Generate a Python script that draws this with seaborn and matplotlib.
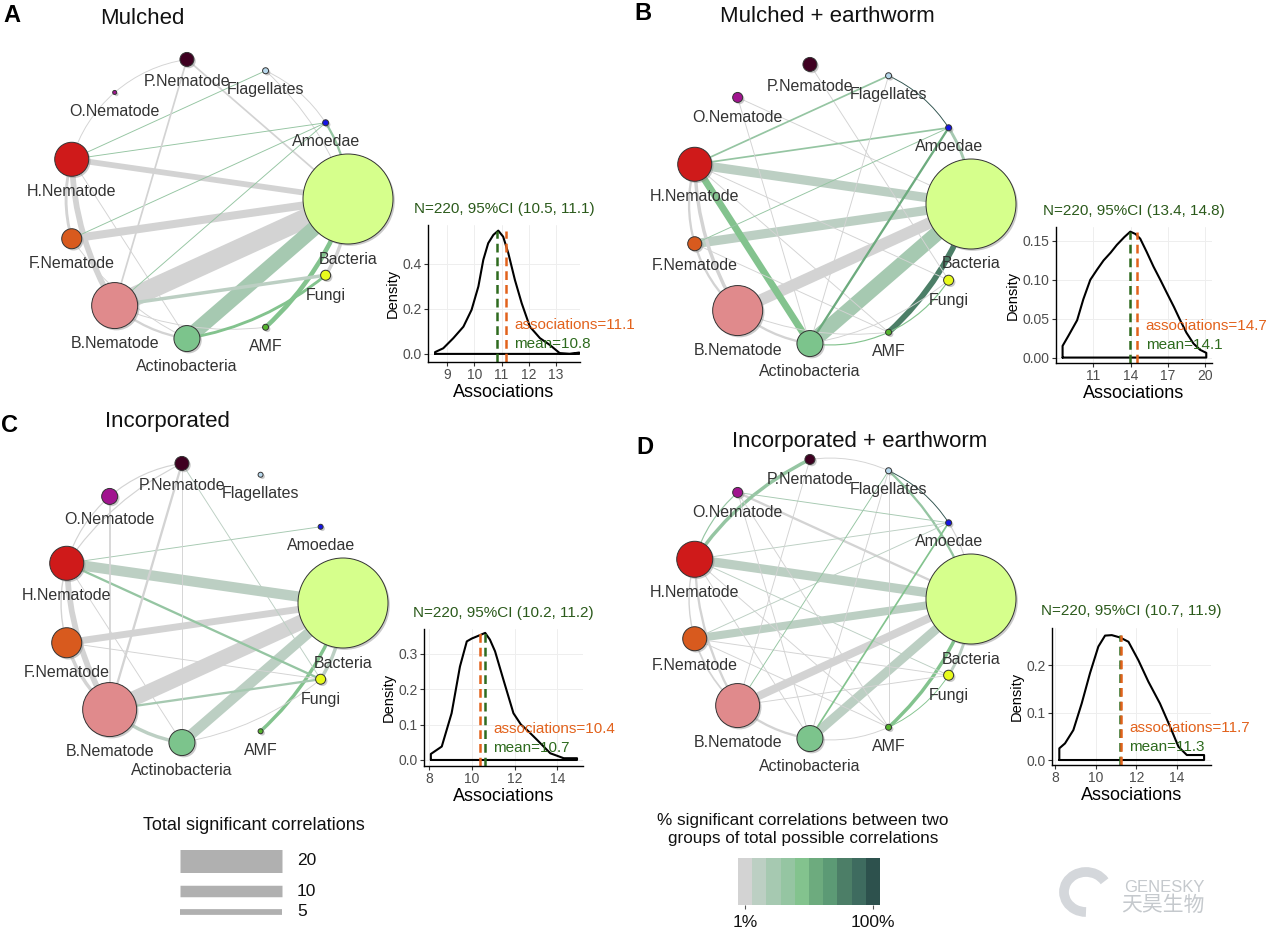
import numpy as np
import matplotlib
matplotlib.use("Agg")
import matplotlib.pyplot as plt
from matplotlib.patches import Circle, PathPatch, Arc
from matplotlib.path import Path
from matplotlib.colors import ListedColormap
import seaborn as sns

# ------------------------------------------------------------
# data
# ------------------------------------------------------------
nodes = ["Bacteria", "Amoedae", "Flagellates", "P.Nematode", "O.Nematode",
         "H.Nematode", "F.Nematode", "B.Nematode", "Actinobacteria", "AMF", "Fungi"]
node_colors = ["#d6ff8c", "#1414e6", "#b8d8ec", "#3f0021", "#a1148f",
               "#cf1a1a", "#d85a1e", "#e08a8c", "#7cc48c", "#55b52d", "#e8fb1c"]

# node radius (px) per panel
size_A = [45, 3, 3, 7, 2, 17, 10, 23, 13, 3, 5]
size_B = [45, 3, 3, 7, 5, 17, 7, 25, 13, 3, 5]
size_C = [45, 2.5, 2.5, 7, 8, 17, 15, 27, 13, 2.5, 5]
size_D = [45, 3, 3, 5, 5, 18, 12, 22, 13, 3, 5]

# (from, to, number of significant correlations, colour class 0..9)
edges_A = [
    ("Bacteria", "B.Nematode", 17, 0), ("Bacteria", "Actinobacteria", 13, 2),
    ("Bacteria", "F.Nematode", 7, 0), ("Bacteria", "H.Nematode", 5, 0),
    ("Bacteria", "AMF", 4, 4), ("Bacteria", "Fungi", 3, 0),
    ("Bacteria", "Amoedae", 2, 3), ("Bacteria", "P.Nematode", 1.5, 0),
    ("Bacteria", "Flagellates", 0.8, 0), ("H.Nematode", "B.Nematode", 5, 0),
    ("H.Nematode", "F.Nematode", 2.5, 0), ("H.Nematode", "O.Nematode", 0.8, 0),
    ("H.Nematode", "Amoedae", 0.8, 3), ("H.Nematode", "Flagellates", 0.8, 3),
    ("H.Nematode", "Actinobacteria", 0.8, 0), ("F.Nematode", "Amoedae", 0.8, 3),
    ("F.Nematode", "Actinobacteria", 0.8, 0), ("B.Nematode", "P.Nematode", 1.5, 0),
    ("B.Nematode", "Fungi", 3, 1), ("B.Nematode", "Actinobacteria", 2, 0),
    ("B.Nematode", "AMF", 0.8, 0), ("B.Nematode", "Amoedae", 0.8, 3),
    ("Actinobacteria", "Fungi", 2.5, 4), ("O.Nematode", "P.Nematode", 0.8, 0),
    ("Flagellates", "Amoedae", 0.8, 0),
]
edges_B = [
    ("Bacteria", "Actinobacteria", 13, 2), ("Bacteria", "B.Nematode", 10, 0),
    ("Bacteria", "H.Nematode", 8, 1), ("Bacteria", "F.Nematode", 8, 1),
    ("Bacteria", "AMF", 5, 7), ("Bacteria", "Amoedae", 2.5, 2),
    ("Bacteria", "O.Nematode", 0.8, 0), ("P.Nematode", "Fungi", 0.8, 0),
    ("H.Nematode", "Actinobacteria", 6, 4), ("H.Nematode", "B.Nematode", 3, 0),
    ("H.Nematode", "F.Nematode", 2, 0), ("H.Nematode", "Flagellates", 1.5, 3),
    ("H.Nematode", "Amoedae", 1.5, 3), ("H.Nematode", "Fungi", 0.8, 0),
    ("H.Nematode", "AMF", 0.8, 0), ("F.Nematode", "B.Nematode", 2, 0),
    ("F.Nematode", "Amoedae", 0.8, 3), ("F.Nematode", "AMF", 0.8, 0),
    ("B.Nematode", "Actinobacteria", 2, 0), ("B.Nematode", "AMF", 0.8, 0),
    ("O.Nematode", "Actinobacteria", 0.8, 0), ("Flagellates", "Actinobacteria", 0.8, 0),
    ("Flagellates", "Amoedae", 0.8, 9), ("Amoedae", "Actinobacteria", 2, 5),
    ("Actinobacteria", "AMF", 1, 4), ("AMF", "Fungi", 1, 4),
    ("Actinobacteria", "Fungi", 0.8, 0),
]
edges_C = [
    ("Bacteria", "B.Nematode", 13, 0), ("Bacteria", "H.Nematode", 9, 1),
    ("Bacteria", "Actinobacteria", 9, 1), ("Bacteria", "F.Nematode", 6, 0),
    ("Bacteria", "AMF", 3, 4), ("Bacteria", "Fungi", 3, 1),
    ("H.Nematode", "B.Nematode", 5, 0), ("H.Nematode", "Fungi", 2, 3),
    ("H.Nematode", "Amoedae", 0.8, 2), ("H.Nematode", "F.Nematode", 1.2, 0),
    ("H.Nematode", "O.Nematode", 1, 0), ("H.Nematode", "P.Nematode", 1, 0),
    ("H.Nematode", "Actinobacteria", 0.8, 0), ("F.Nematode", "B.Nematode", 3, 0),
    ("F.Nematode", "Fungi", 0.8, 0), ("B.Nematode", "P.Nematode", 2, 0),
    ("B.Nematode", "Actinobacteria", 3, 1), ("B.Nematode", "Fungi", 2, 2),
    ("O.Nematode", "B.Nematode", 1.5, 0), ("O.Nematode", "P.Nematode", 1, 0),
    ("P.Nematode", "Actinobacteria", 0.8, 0), ("P.Nematode", "Fungi", 0.8, 1),
    ("Actinobacteria", "Fungi", 0.8, 0),
]
edges_D = [
    ("Bacteria", "H.Nematode", 8, 1), ("Bacteria", "Actinobacteria", 8, 1),
    ("Bacteria", "F.Nematode", 7, 1), ("Bacteria", "B.Nematode", 7, 0),
    ("Bacteria", "AMF", 3, 4), ("Bacteria", "Fungi", 2.5, 1),
    ("Bacteria", "Flagellates", 2, 3), ("Bacteria", "O.Nematode", 2, 0),
    ("Bacteria", "Amoedae", 1, 0), ("H.Nematode", "P.Nematode", 3, 3),
    ("H.Nematode", "O.Nematode", 1, 3), ("H.Nematode", "B.Nematode", 2, 0),
    ("H.Nematode", "F.Nematode", 1.2, 0), ("H.Nematode", "Fungi", 0.8, 1),
    ("H.Nematode", "AMF", 0.8, 0), ("H.Nematode", "Amoedae", 0.8, 1),
    ("H.Nematode", "Actinobacteria", 0.8, 0), ("F.Nematode", "B.Nematode", 1.5, 0),
    ("F.Nematode", "Fungi", 0.8, 0), ("F.Nematode", "AMF", 0.8, 0),
    ("F.Nematode", "Amoedae", 0.8, 1), ("B.Nematode", "Actinobacteria", 2, 0),
    ("B.Nematode", "Fungi", 0.8, 0), ("B.Nematode", "Flagellates", 0.8, 3),
    ("B.Nematode", "P.Nematode", 0.8, 0), ("Actinobacteria", "Amoedae", 1.5, 4),
    ("Actinobacteria", "AMF", 0.8, 0), ("Actinobacteria", "O.Nematode", 0.8, 0),
    ("Actinobacteria", "Flagellates", 0.8, 0), ("AMF", "Fungi", 0.8, 4),
    ("Flagellates", "Amoedae", 0.8, 9), ("Flagellates", "AMF", 0.8, 0),
    ("O.Nematode", "Amoedae", 0.8, 2), ("O.Nematode", "AMF", 0.8, 0),
    ("P.Nematode", "Flagellates", 0.8, 0),
]

# density curves of the null model (Associations vs Density)
dens_A_x = [8.56, 8.86, 9.23, 9.6, 9.9, 10.15, 10.33, 10.51, 10.7, 10.88, 11.06,
            11.25, 11.49, 11.74, 12.04, 12.41, 12.77, 13.14, 13.5, 13.85]
dens_A_y = [0.008, 0.025, 0.07, 0.121, 0.196, 0.30, 0.418, 0.492, 0.529, 0.548, 0.521,
            0.447, 0.329, 0.225, 0.121, 0.07, 0.04, 0.003, 0.0, 0.006]
dens_B_x = [8.53, 9.0, 9.7, 10.2, 10.76, 11.3, 11.83, 12.4, 12.9, 13.5, 13.98, 14.4,
            14.78, 15.3, 15.85, 16.4, 16.93, 17.5, 18.0, 18.5, 19.07, 19.6, 20.1]
dens_B_y = [0.015, 0.028, 0.048, 0.075, 0.10, 0.113, 0.125, 0.135, 0.145, 0.155,
            0.162, 0.159, 0.153, 0.136, 0.117, 0.10, 0.083, 0.065, 0.048, 0.032,
            0.018, 0.01, 0.006]
dens_C_x = [8.09, 8.6, 9.06, 9.45, 9.77, 10.0, 10.24, 10.63, 10.85, 11.09, 11.48,
            11.95, 12.3, 12.58, 13.05, 13.67, 14.3, 14.92]
dens_C_y = [0.017, 0.038, 0.132, 0.264, 0.335, 0.343, 0.349, 0.359, 0.34, 0.307,
            0.227, 0.132, 0.10, 0.085, 0.057, 0.019, 0.005, 0.005]
dens_D_x = [8.21, 8.49, 8.9, 9.31, 9.72, 10.13, 10.46, 10.79, 11.2, 11.61, 12.1,
            12.59, 13.16, 13.66, 14.07, 14.48, 15.33]
dens_D_y = [0.0246, 0.035, 0.063, 0.119, 0.183, 0.239, 0.262, 0.263, 0.258, 0.249,
            0.21, 0.165, 0.119, 0.07, 0.028, 0.0105, 0.0105]

mean_line = [10.85, 13.98, 10.63, 11.2]
obs_line = [11.15, 14.55, 10.39, 11.25]
mean_lab = ["10.8", "14.1", "10.7", "11.3"]
obs_lab = ["11.1", "14.7", "10.4", "11.7"]
ci_lab = ["(10.5, 11.1)", "(13.4, 14.8)", "(10.2, 11.2)", "(10.7, 11.9)"]
n_perm = 220

xticks_all = [[9, 10, 11, 12, 13], [11, 14, 17, 20], [8, 10, 12, 14], [8, 10, 12, 14]]
yticks_all = [[0.0, 0.2, 0.4], [0.0, 0.05, 0.10, 0.15], [0.0, 0.1, 0.2, 0.3], [0.0, 0.1, 0.2]]

panel_letters = ["A", "B", "C", "D"]
panel_titles = ["Mulched", "Mulched + earthworm", "Incorporated", "Incorporated + earthworm"]

size_legend_vals = [20, 10, 5]
color_legend_labels = ["1%", "100%"]
edge_colors = ["#d3d3d3", "#bccfc3", "#a6c9b1", "#95c5a2", "#83c38e",
               "#6dab7e", "#5c9a75", "#4c7e67", "#3e6b5f", "#2d514d"]

# ------------------------------------------------------------
# style
# ------------------------------------------------------------
sns.set_theme(style="whitegrid")
plt.rcParams['font.family'] = ['Liberation Sans', 'DejaVu Sans']

W, H = 1269, 931
R = 141
PX = 0.72  # px -> points at dpi 100
GREEN_T = "#2b5a1b"
GREEN_L = "#2e6b1e"
ORANGE = "#e2621c"

edge_pal = sns.color_palette(edge_colors)

fig = plt.figure(figsize=(W / 100, H / 100), dpi=100)
ax = fig.add_axes([0, 0, 1, 1])
ax.set_xlim(0, W)
ax.set_ylim(H, 0)
ax.axis('off')

idx = {n: i for i, n in enumerate(nodes)}
n_nodes = len(nodes)


def draw_network(center, sizes, edges):
    cx, cy = center
    ang = 2 * np.pi * np.arange(n_nodes) / n_nodes
    xs = cx + R * np.cos(ang)
    ys = cy - R * np.sin(ang)
    c = np.array([cx, cy])
    for a, b, cnt, lev in edges:
        i, j = idx[a], idx[b]
        p0 = np.array([xs[i], ys[i]])
        p2 = np.array([xs[j], ys[j]])
        d = min(abs(i - j), n_nodes - abs(i - j))
        if d <= 2:
            # neighbours are joined along the ring
            m = (p0 + p2) / 2
            dist = np.linalg.norm(m - c)
            u = (m - c) / dist
            k = 1.0 if d == 1 else 0.45
            tgt = c + u * (dist + k * (R - dist))
            ctrl = 2 * tgt - m
            path = Path([p0, ctrl, p2], [Path.MOVETO, Path.CURVE3, Path.CURVE3])
        else:
            path = Path([p0, p2], [Path.MOVETO, Path.LINETO])
        ax.add_patch(PathPatch(path, fill=False, lw=cnt * 1.15 * PX,
                               edgecolor=edge_pal[lev], capstyle='butt', zorder=1))
    for i, name in enumerate(nodes):
        r = sizes[i]
        ax.add_patch(Circle((xs[i] + 1.8, ys[i] + 1.8), r, color="#8a8a8a",
                            alpha=0.45, lw=0, zorder=2))
        ax.add_patch(Circle((xs[i], ys[i]), r, facecolor=node_colors[i],
                            edgecolor="#333333", lw=0.7, zorder=3))
        ax.text(xs[i], ys[i] + max(r + 15, 19), name, ha='center', va='center',
                fontsize=11.5, color="#333333", zorder=4)


def draw_density(k, rect, xs, ys, xlim, ylim, fmt):
    l, t, r, b = rect
    dax = fig.add_axes([l / W, 1 - b / H, (r - l) / W, (b - t) / H])
    cx = [xs[0]] + list(xs) + [xs[-1], xs[0]]
    cy = [0] + list(ys) + [0, 0]
    sns.lineplot(x=cx, y=cy, sort=False, estimator=None, color="black", lw=1.5, ax=dax)
    top = max(ys)
    dax.vlines(mean_line[k], ylim[0], top, colors=GREEN_L, linestyles=(0, (3.5, 2)), lw=1.8)
    dax.vlines(obs_line[k], ylim[0], top, colors=ORANGE, linestyles=(0, (3.5, 2)), lw=1.8)
    xr = max(mean_line[k], obs_line[k])
    dax.annotate(f"associations={obs_lab[k]}", xy=(xr, 0.27), xycoords=('data', 'axes fraction'),
                 xytext=(6, 0), textcoords='offset points', ha='left', va='center',
                 color=ORANGE, fontsize=11, annotation_clip=False)
    dax.annotate(f"mean={mean_lab[k]}", xy=(xr, 0.135), xycoords=('data', 'axes fraction'),
                 xytext=(6, 0), textcoords='offset points', ha='left', va='center',
                 color=GREEN_L, fontsize=11, annotation_clip=False)
    dax.set_xlim(*xlim)
    dax.set_ylim(*ylim)
    dax.set_xticks(xticks_all[k])
    dax.set_yticks(yticks_all[k])
    dax.set_yticklabels([fmt % v for v in yticks_all[k]])
    dax.set_facecolor("none")
    dax.grid(True, color="#eeeeee", lw=0.7)
    for s in ["top", "right"]:
        dax.spines[s].set_visible(False)
    for s in ["left", "bottom"]:
        dax.spines[s].set_visible(True)
        dax.spines[s].set_color("black")
        dax.spines[s].set_linewidth(1.0)
    dax.tick_params(length=3, width=0.8, color="#333333", labelcolor="#4d4d4d",
                    labelsize=10, pad=1.5, bottom=True, left=True)
    dax.set_xlabel("Associations", fontsize=13, labelpad=1, color="black")
    dax.set_ylabel("Density", fontsize=10.5, labelpad=2, color="black")
    dax.set_title(f"N={n_perm}, 95%CI {ci_lab[k]}", color=GREEN_T, fontsize=11, pad=9)


# networks
draw_network((207, 199), size_A, edges_A)
draw_network((830, 204), size_B, edges_B)
draw_network((202, 603), size_C, edges_C)
draw_network((830, 599), size_D, edges_D)

# panel letters / titles
letter_pos = [(12, 16), (643, 14), (10, 425), (645, 447)]
title_pos = [(142, 18), (827, 16), (167, 422), (860, 441)]
for k in range(4):
    ax.text(*letter_pos[k], panel_letters[k], fontsize=17, fontweight='bold',
            ha='center', va='center', color="black")
    ax.text(*title_pos[k], panel_titles[k], fontsize=16, ha='center', va='center',
            color="#111111")

# density insets
draw_density(0, (428, 225, 580, 362), dens_A_x, dens_A_y, (8.3, 13.88), (-0.036, 0.573), "%.1f")
draw_density(1, (1056, 227, 1212, 363), dens_B_x, dens_B_y, (8.0, 20.56), (-0.007, 0.168), "%.2f")
draw_density(2, (424, 629, 583, 766), dens_C_x, dens_C_y, (7.77, 15.2), (-0.017, 0.37), "%.1f")
draw_density(3, (1052, 628, 1211, 765), dens_D_x, dens_D_y, (7.85, 15.67), (-0.0105, 0.278), "%.1f")

# size legend
ax.text(254, 826, "Total significant correlations", fontsize=13, ha='center', va='center',
        color="#111111")
for v, yy in zip(size_legend_vals, [860.5, 891, 912]):
    ax.hlines(yy, 180, 282, colors="#b0b0b0", lw=v * 1.15 * PX)
    ax.text(297, yy, str(v), fontsize=12.5, ha='left', va='center', color="#111111")

# colour legend
ax.text(803, 829, "% significant correlations between two\ngroups of total possible correlations",
        fontsize=12.3, ha='center', va='center', color="#111111", linespacing=1.25)
cax = fig.add_axes([738 / W, 1 - 905 / H, 142 / W, 47 / H])
sns.heatmap(np.arange(10)[None, :], cmap=ListedColormap(edge_pal), cbar=False,
            ax=cax, xticklabels=False, yticklabels=False)
cax.set_xticks([0.5, 9.5])
cax.set_xticklabels(color_legend_labels, fontsize=12.5, color="#111111")
cax.tick_params(axis='x', bottom=True, length=3, width=0.8, color="#555555", pad=4)
cax.set_yticks([])

# watermark
ax.add_patch(Arc((1086, 892), 44, 40, theta1=90, theta2=330, lw=7, color="#d4d7db"))
ax.text(1164, 887, "GENESKY", fontsize=12, ha='center', va='center', color="#c5c9cd",
        family=['Liberation Sans', 'DejaVu Sans'])
ax.text(1163, 905, "天昊生物", fontsize=15, ha='center', va='center', color="#c5c9cd",
        family=['Noto Sans CJK SC', 'DejaVu Sans'])

fig.savefig("out.png", dpi=100)
